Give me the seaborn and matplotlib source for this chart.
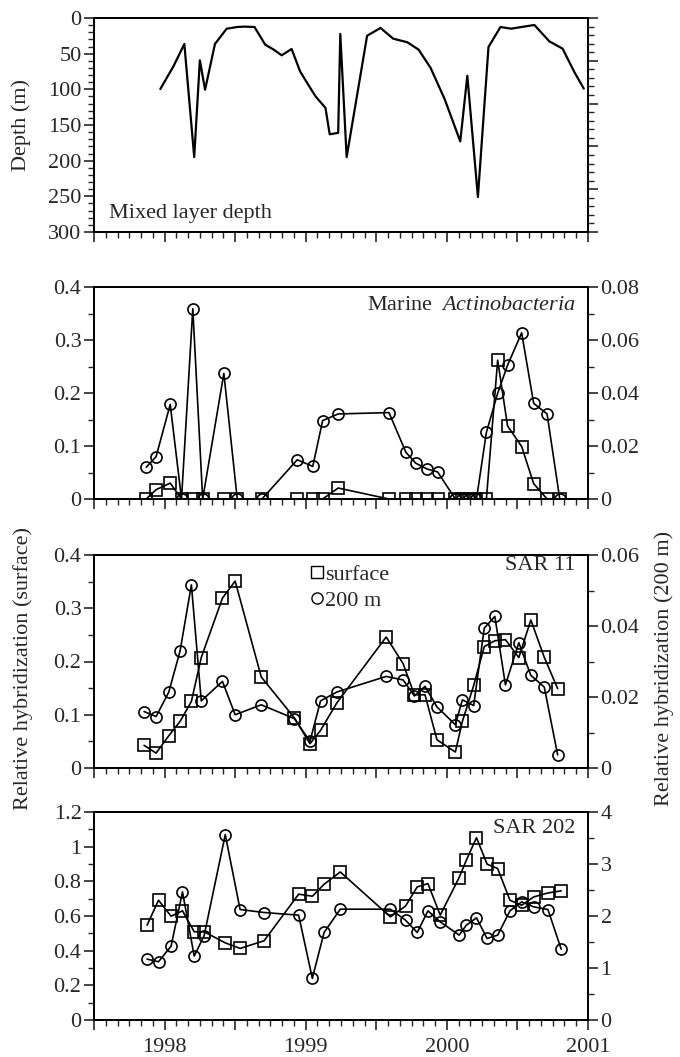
import numpy as np
import pandas as pd
import matplotlib
matplotlib.use("Agg")
import matplotlib.pyplot as plt
import matplotlib.ticker as mticker
from matplotlib.lines import Line2D
import seaborn as sns

# ---------------- data ----------------
mld_dates = [1997.97, 1998.063, 1998.14, 1998.21, 1998.25, 1998.287, 1998.357, 1998.44,
             1998.515, 1998.566, 1998.637, 1998.713, 1998.77, 1998.83, 1998.90, 1998.96,
             1999.01, 1999.07, 1999.14, 1999.17, 1999.23, 1999.245, 1999.29, 1999.435,
             1999.53, 1999.62, 1999.72, 1999.80, 1999.885, 1999.985, 2000.095, 2000.145,
             2000.22, 2000.295, 2000.38, 2000.455, 2000.53, 2000.62, 2000.726, 2000.82,
             2000.904, 2000.97]
mld_depth = [99.5, 67.7, 36.4, 195, 59.3, 100.5, 36.4, 15,
             12.6, 12.1, 12.6, 37.4, 44, 52.3, 43.4, 74.7,
             91, 110, 126, 163, 161, 22.4, 195, 24.8,
             14, 29, 34, 44.4, 70, 114, 173, 81,
             251, 40.6, 12.6, 15, 12.6, 9.8, 32.7, 43,
             76, 99]

act_dates = [1997.87, 1997.94, 1998.04, 1998.12, 1998.20, 1998.27, 1998.42, 1998.515,
             1998.69, 1998.94, 1999.05, 1999.12, 1999.23, 1999.59, 1999.71, 1999.78,
             1999.86, 1999.935, 2000.06, 2000.11, 2000.16, 2000.21, 2000.28, 2000.36,
             2000.43, 2000.53, 2000.615, 2000.71, 2000.80]
act_surface = [0, 0.0176, 0.030, 0, 0, 0, 0, 0,
               0, 0, 0, 0, 0.0207, 0, 0, 0,
               0, 0, 0, 0, 0, 0, 0, 0.262,
               0.138, 0.099, 0.029, 0, 0]
act_200m = [0.012, 0.016, 0.0357, 0, 0.0718, 0, 0.0474, 0,
            0, 0.0148, 0.0123, 0.0296, 0.0321, 0.0326, 0.0176, 0.0135,
            0.0113, 0.0102, 0, 0, 0, 0, 0.0251, 0.0399,
            0.0505, 0.0627, 0.0361, 0.0321, 0]

sar11_dates = [1997.855, 1997.94, 1998.03, 1998.11, 1998.19, 1998.26, 1998.41, 1998.50,
               1998.685, 1998.92, 1999.03, 1999.105, 1999.22, 1999.57, 1999.69, 1999.77,
               1999.845, 1999.93, 2000.06, 2000.11, 2000.19, 2000.265, 2000.34, 2000.415,
               2000.51, 2000.595, 2000.69, 2000.785]
sar11_surface = [0.0425, 0.028, 0.0606, 0.0875, 0.125, 0.2075, 0.319, 0.351,
                 0.171, 0.094, 0.0456, 0.0706, 0.122, 0.246, 0.196, 0.1375,
                 0.1375, 0.053, 0.030, 0.0875, 0.155, 0.228, 0.239, 0.241,
                 0.2075, 0.278, 0.208, 0.149]
sar11_200m = [0.0159, 0.0145, 0.0214, 0.033, 0.0516, 0.0189, 0.0244, 0.015,
              0.0178, 0.0139, 0.0075, 0.0189, 0.0214, 0.0258, 0.0248, 0.0203,
              0.023, 0.0172, 0.0122, 0.0192, 0.0176, 0.0394, 0.0427, 0.0234,
              0.0353, 0.0261, 0.0228, 0.0037]

sar202_dates = [1997.876, 1997.957, 1998.046, 1998.127, 1998.21, 1998.28, 1998.43, 1998.535,
                1998.705, 1998.95, 1999.047, 1999.13, 1999.245, 1999.60, 1999.707, 1999.79,
                1999.866, 1999.953, 2000.087, 2000.138, 2000.21, 2000.285, 2000.36, 2000.447,
                2000.53, 2000.615, 2000.716, 2000.81]
sar202_surface = [0.547, 0.691, 0.599, 0.630, 0.509, 0.509, 0.445, 0.413,
                  0.457, 0.726, 0.714, 0.783, 0.854, 0.595, 0.657, 0.768,
                  0.787, 0.605, 0.822, 0.922, 1.052, 0.899, 0.874, 0.691,
                  0.662, 0.710, 0.733, 0.745]
sar202_200m = [1.171, 1.12, 1.42, 2.464, 1.229, 1.619, 3.565, 2.125,
               2.067, 2.016, 0.80, 1.683, 2.131, 2.131, 1.92, 1.683,
               2.099, 1.888, 1.632, 1.824, 1.965, 1.568, 1.632, 2.099,
               2.272, 2.176, 2.125, 1.363]

year_labels = [1998, 1999, 2000, 2001]

# ---------------- style ----------------
sns.set_style("ticks")
plt.rcParams['font.family'] = ['Liberation Serif', 'DejaVu Serif']
plt.rcParams['mathtext.fontset'] = 'custom'
plt.rcParams['mathtext.rm'] = 'Liberation Serif'
plt.rcParams['mathtext.it'] = 'Liberation Serif:italic'
FS = 16

fig = plt.figure(figsize=(6.8, 10.57), dpi=100)
L, W = 94 / 680, 494 / 680
H = 1057.0
boxes = [(18, 232), (287, 499), (555, 768), (812, 1020)]
axes = [fig.add_axes([L, 1 - b / H, W, (b - t) / H]) for t, b in boxes]

LW = 1.2
MS = 8
MEW = 1.2


def style_x(ax, labels):
    ax.set_xlim(1997.5, 2001)
    ax.xaxis.set_major_locator(mticker.MultipleLocator(0.5))
    ax.xaxis.set_minor_locator(mticker.MultipleLocator(1 / 12))
    if labels:
        ax.xaxis.set_major_formatter(mticker.FuncFormatter(
            lambda v, p: str(int(round(v))) if abs(v - round(v)) < 1e-6 and int(round(v)) in year_labels else ""))
    else:
        ax.set_xticklabels([])
    ax.tick_params(axis='x', which='major', direction='out', length=7, width=1.2, labelsize=FS, pad=6, top=False)
    ax.tick_params(axis='x', which='minor', direction='out', length=4, width=1.0, top=False)
    ax.set_xlabel("")


def style_y(ax, major, minor):
    ax.yaxis.set_major_locator(mticker.MultipleLocator(major))
    ax.yaxis.set_minor_locator(mticker.MultipleLocator(minor))
    ax.yaxis.set_major_formatter(mticker.FuncFormatter(lambda v, p: "%g" % round(v, 4)))
    ax.tick_params(axis='y', which='major', direction='out', length=7, width=1.2, labelsize=FS, pad=2)
    ax.tick_params(axis='y', which='minor', direction='out', length=4, width=1.0)
    ax.set_ylabel("")


def spines(ax):
    for s in ax.spines.values():
        s.set_linewidth(1.3)
        s.set_color('black')
        s.set_visible(True)


def series(ax, x, y, marker):
    df = pd.DataFrame({"date": x, "value": y})
    sns.lineplot(data=df, x="date", y="value", ax=ax, sort=False, color='black',
                 linewidth=LW, marker=marker, markersize=MS, markerfacecolor='none',
                 markeredgecolor='black', markeredgewidth=MEW, estimator=None)


# ---- panel 1: mixed layer depth ----
ax = axes[0]
df = pd.DataFrame({"date": mld_dates, "depth": mld_depth})
sns.lineplot(data=df, x="date", y="depth", ax=ax, sort=False, color='black', linewidth=1.6, estimator=None)
ax.set_ylim(300, 0)
style_x(ax, False)
style_y(ax, 50, 10)
ax2 = ax.twinx()
ax2.set_ylim(300, 0)
ax2.yaxis.set_major_locator(mticker.MultipleLocator(60))
ax2.yaxis.set_minor_locator(mticker.MultipleLocator(12))
ax2.tick_params(axis='y', which='major', direction='out', length=7, width=1.2, labelright=False)
ax2.tick_params(axis='y', which='minor', direction='out', length=4, width=1.0)
spines(ax); spines(ax2)
fig.text(21 / 680, 1 - 125 / H, "Depth (m)", rotation=90, ha='center', va='center', fontsize=FS)
ax.text(0.03, 0.04, "Mixed layer depth", transform=ax.transAxes, fontsize=FS, ha='left', va='bottom')

# ---- generic two-axis panels ----
panels = [
    (axes[1], act_dates, act_surface, act_200m, (0.4, 0.1, 0.05), (0.08, 0.02, 0.01),
     r"Marine  $\mathit{Actinobacteria}$", 0.914),
    (axes[2], sar11_dates, sar11_surface, sar11_200m, (0.4, 0.1, 0.05), (0.06, 0.02, 0.01),
     "SAR 11", 0.953),
    (axes[3], sar202_dates, sar202_surface, sar202_200m, (1.2, 0.2, 0.1), (4, 1, 0.5),
     "SAR 202", 0.92),
]
for i, (ax, d, s, c, lim_l, lim_r, title, ty) in enumerate(panels):
    axr = ax.twinx()
    series(ax, d, s, 's')
    series(axr, d, c, 'o')
    ax.set_ylim(0, lim_l[0])
    axr.set_ylim(0, lim_r[0])
    style_x(ax, i == 2)
    style_y(ax, lim_l[1], lim_l[2])
    style_y(axr, lim_r[1], lim_r[2])
    axr.tick_params(axis='y', which='both', left=False, right=True, labelleft=False, labelright=True)
    spines(ax); spines(axr)
    ax.text(0.975, ty, title, transform=ax.transAxes, fontsize=FS, ha='right', va='center')
    if i == 1:
        handles = [Line2D([], [], linestyle='none', marker='s', markersize=MS, markerfacecolor='none',
                          markeredgecolor='black', markeredgewidth=1.0),
                   Line2D([], [], linestyle='none', marker='o', markersize=MS, markerfacecolor='none',
                          markeredgecolor='black', markeredgewidth=1.0)]
        ax.legend(handles, ["surface", "200 m"], loc='upper left', bbox_to_anchor=(0.41, 1.02),
                  frameon=False, fontsize=FS, handlelength=0.6, handletextpad=0.1,
                  labelspacing=0.25, borderaxespad=0.2)

fig.text(23 / 680, 1 - 668 / H, "Relative hybridization (surface)", rotation=90,
         ha='center', va='center', fontsize=FS)
fig.text(664 / 680, 1 - 668 / H, "Relative hybridization (200 m)", rotation=90,
         ha='center', va='center', fontsize=FS)

fig.savefig("out.png", dpi=100)
